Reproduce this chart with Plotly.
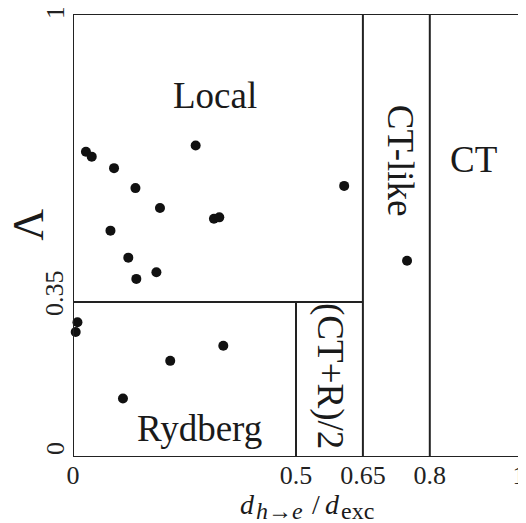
import plotly.graph_objects as go

# ---- data ----
x_vals = [0.029, 0.042, 0.275, 0.092, 0.140, 0.608, 0.195, 0.316, 0.328, 0.084,
          0.124, 0.187, 0.142, 0.749, 0.010, 0.006, 0.337, 0.218, 0.112]
y_vals = [0.689, 0.678, 0.703, 0.652, 0.607, 0.612, 0.562, 0.538, 0.541, 0.511,
          0.450, 0.417, 0.402, 0.443, 0.304, 0.282, 0.251, 0.217, 0.132]

x_tickvals = [0, 0.5, 0.65, 0.8, 1]
x_ticktext = ["0", "0.5", "0.65", "0.8", "1"]
y_tickvals = [0, 0.35, 1]
y_ticktext = ["0", "0.35", "1"]
y_tickshift = [8, 9, 1]   # px the rotated labels sit above their tick

# region thresholds
lam_split = 0.35
d_rydberg = 0.5
d_local = 0.65
d_ctlike = 0.8

region_names = ["Local", "Rydberg", "(CT+R)/2", "CT-like", "CT"]
region_x = [0.319, 0.283, 0.576, 0.736, 0.897]
region_y = [0.817, 0.064, 0.183, 0.668, 0.672]
region_angle = [0, 0, 90, 90, 0]

# x-axis title pieces: (text, font size, left px, middle px)
title_parts = [("<i>d</i>", 28, 239, 505),
               ("<i>h</i>→<i>e</i>", 24, 255, 511),
               ("/", 28, 311, 505),
               ("<i>d</i>", 28, 324, 505),
               ("exc", 24, 340, 511)]

LINE = "#222222"
FONT = "Liberation Serif"
PLOT_L, PLOT_B, PLOT_W, PLOT_H = 73, 457.3, 446, 443

fig = go.Figure()
fig.add_trace(go.Scatter(
    x=x_vals, y=y_vals, mode="markers",
    marker=dict(size=10, color="#111111"),
    cliponaxis=False, showlegend=False, hoverinfo="skip"))

shapes = [
    dict(type="rect", x0=0, x1=1, y0=0, y1=1),
    dict(type="line", x0=0, x1=d_local, y0=lam_split, y1=lam_split),
    dict(type="line", x0=d_rydberg, x1=d_rydberg, y0=0, y1=lam_split),
    dict(type="line", x0=d_local, x1=d_local, y0=0, y1=1),
    dict(type="line", x0=d_ctlike, x1=d_ctlike, y0=0, y1=1),
]
for s in shapes:
    s.update(xref="x", yref="y", line=dict(color=LINE, width=2), layer="above")
    fig.add_shape(**s)

for name, xx, yy, ang in zip(region_names, region_x, region_y, region_angle):
    fig.add_annotation(x=xx, y=yy, xref="x", yref="y", text=name, textangle=ang,
                       showarrow=False, xanchor="center", yanchor="middle",
                       font=dict(family=FONT, size=37, color="#1a1a1a"))

# rotated y tick labels
for val, txt, sh in zip(y_tickvals, y_ticktext, y_tickshift):
    fig.add_annotation(x=(55 - PLOT_L) / PLOT_W, y=val, xref="paper", yref="y",
                       text=txt, textangle=-90, yshift=sh, showarrow=False,
                       xanchor="center", yanchor="middle", borderpad=0,
                       font=dict(family=FONT, size=26, color="#222222"))

for txt, fs, px, py in title_parts:
    fig.add_annotation(x=(px - PLOT_L) / PLOT_W, y=(PLOT_B - py) / PLOT_H,
                       xref="paper", yref="paper", text=txt, showarrow=False,
                       xanchor="left", yanchor="middle", borderpad=0,
                       font=dict(family=FONT, size=fs, color="#1a1a1a"))

fig.add_annotation(x=-0.099, y=0.524, xref="paper", yref="paper", text="Λ",
                   textangle=-90, showarrow=False, xanchor="center", yanchor="middle",
                   font=dict(family=FONT, size=44, color="#1a1a1a"))

fig.update_xaxes(range=[0, 1], showgrid=False, zeroline=False, showline=False,
                 ticks="", tickvals=x_tickvals, ticktext=x_ticktext, automargin=False,
                 tickfont=dict(family=FONT, size=26, color="#222222"))
fig.update_yaxes(range=[0, 1], showgrid=False, zeroline=False, showline=False,
                 ticks="", tickvals=y_tickvals, showticklabels=False, automargin=False)

# page body has an 8px margin: size the figure so the plot area lands in place
fig.update_layout(width=518, height=515, margin=dict(l=65, r=7, t=6, b=66),
                  plot_bgcolor="white", paper_bgcolor="white")
fig.write_html("out.html")
